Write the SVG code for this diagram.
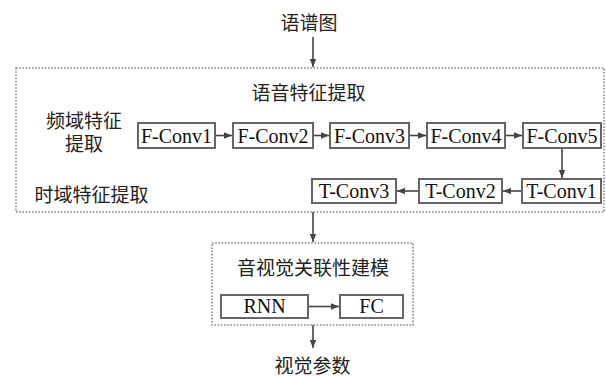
<svg xmlns="http://www.w3.org/2000/svg" width="606" height="377" viewBox="0 0 606 377">
<style>
.cn{font-family:"Liberation Serif","Noto Sans CJK SC",serif;font-size:19px;fill:#222;text-anchor:middle}
.bt{font-family:"Liberation Serif",serif;font-size:20px;fill:#111;text-anchor:middle}
.box{fill:#fff;stroke:#666;stroke-width:2}
.dot{fill:none;stroke:#8a8a8a;stroke-width:1.6;stroke-dasharray:1.6 1.6}
.ln{stroke:#444;stroke-width:1.6;fill:none}
</style>
<defs>
<marker id="ah" viewBox="0 0 10 10" refX="10" refY="5" markerWidth="5" markerHeight="5" orient="auto" markerUnits="strokeWidth">
<path d="M0,1 L10,5 L0,9 z" fill="#444"/>
</marker>
</defs>
<rect width="606" height="377" fill="#fff"/>
<g id="containers">
<rect id="speech-feature" class="dot" x="16" y="68" width="588" height="144"/>
<rect id="av-model" class="dot" x="212" y="243" width="201" height="82"/>
</g>
<g id="labels">
<text class="cn" x="309" y="30">语谱图</text>
<text class="cn" x="308.5" y="100">语音特征提取</text>
<text class="cn" x="84" y="128">频域特征</text>
<text class="cn" x="84" y="151">提取</text>
<text class="cn" x="91.5" y="202">时域特征提取</text>
<text class="cn" x="313" y="275">音视觉关联性建模</text>
<text class="cn" x="312.5" y="373">视觉参数</text>
</g>
<g id="connectors">
<line class="ln" x1="313" y1="37" x2="313" y2="67" marker-end="url(#ah)"/>
<line class="ln" x1="215" y1="135.5" x2="232" y2="135.5" marker-end="url(#ah)"/>
<line class="ln" x1="313" y1="135.5" x2="329" y2="135.5" marker-end="url(#ah)"/>
<line class="ln" x1="409" y1="135.5" x2="426" y2="135.5" marker-end="url(#ah)"/>
<line class="ln" x1="505" y1="135.5" x2="522" y2="135.5" marker-end="url(#ah)"/>
<line class="ln" x1="562" y1="148" x2="562" y2="178" marker-end="url(#ah)"/>
<line class="ln" x1="521" y1="191" x2="503" y2="191" marker-end="url(#ah)"/>
<line class="ln" x1="419" y1="191" x2="397" y2="191" marker-end="url(#ah)"/>
<line class="ln" x1="313" y1="212" x2="313" y2="242" marker-end="url(#ah)"/>
<line class="ln" x1="308" y1="306.5" x2="339" y2="306.5" marker-end="url(#ah)"/>
<line class="ln" x1="313" y1="325" x2="313" y2="348" marker-end="url(#ah)"/>
</g>
<g id="f-conv1"><rect class="box" x="138" y="123" width="77" height="25"/><text class="bt" x="176.5" y="143">F-Conv1</text></g>
<g id="f-conv2"><rect class="box" x="233" y="123" width="80" height="25"/><text class="bt" x="273" y="143">F-Conv2</text></g>
<g id="f-conv3"><rect class="box" x="330" y="123" width="79" height="25"/><text class="bt" x="369.5" y="143">F-Conv3</text></g>
<g id="f-conv4"><rect class="box" x="427" y="123" width="78" height="25"/><text class="bt" x="466" y="143">F-Conv4</text></g>
<g id="f-conv5"><rect class="box" x="523" y="123" width="78" height="25"/><text class="bt" x="562" y="143">F-Conv5</text></g>
<g id="t-conv1"><rect class="box" x="522" y="179" width="79" height="24"/><text class="bt" x="561.5" y="198">T-Conv1</text></g>
<g id="t-conv2"><rect class="box" x="419" y="179" width="83" height="24"/><text class="bt" x="460.5" y="198">T-Conv2</text></g>
<g id="t-conv3"><rect class="box" x="312" y="179" width="84" height="24"/><text class="bt" x="354" y="198">T-Conv3</text></g>
<g id="rnn"><rect class="box" x="221" y="295" width="87" height="23"/><text class="bt" x="264.5" y="313">RNN</text></g>
<g id="fc"><rect class="box" x="340" y="295" width="63" height="23"/><text class="bt" x="371.5" y="313">FC</text></g>
</svg>
